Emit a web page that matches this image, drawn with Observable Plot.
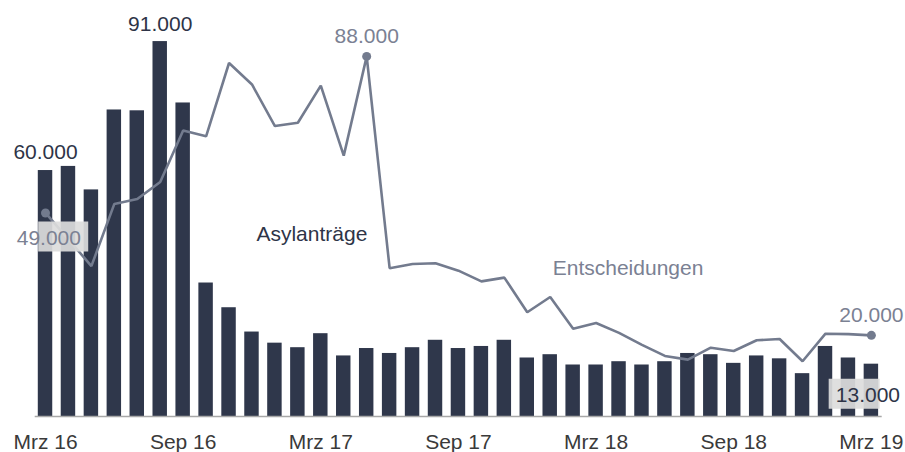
<!DOCTYPE html>
<html>
<head>
<meta charset="utf-8">
<script src="https://cdn.jsdelivr.net/npm/d3@7"></script>
<script src="https://cdn.jsdelivr.net/npm/@observablehq/plot@0.6"></script>
<style>
  html, body { margin: 0; padding: 0; background: #ffffff; }
  #chart svg { display: block; font-family: "Liberation Sans", Arial, sans-serif; }
</style>
</head>
<body>
<div id="chart"></div>
<script>
// Months (German abbreviations)
const months = [
  "Mrz 16","Apr 16","Mai 16","Jun 16","Jul 16","Aug 16","Sep 16","Okt 16","Nov 16","Dez 16",
  "Jan 17","Feb 17","Mrz 17","Apr 17","Mai 17","Jun 17","Jul 17","Aug 17","Sep 17","Okt 17","Nov 17","Dez 17",
  "Jan 18","Feb 18","Mrz 18","Apr 18","Mai 18","Jun 18","Jul 18","Aug 18","Sep 18","Okt 18","Nov 18","Dez 18",
  "Jan 19","Feb 19","Mrz 19"
];
// Asylanträge (thousands)
const asylantraege = [
  59.7, 60.7, 55.0, 74.4, 74.2, 91.0, 76.1, 32.4, 26.4, 20.5,
  17.8, 16.7, 20.1, 14.7, 16.5, 15.3, 16.7, 18.5, 16.5, 17.0, 18.5, 14.2,
  15.0, 12.5, 12.5, 13.3, 12.5, 13.3, 15.3, 15.0, 12.9, 14.7, 14.0, 10.4,
  17.0, 14.2, 12.7
];
// Entscheidungen (thousands)
const entscheidungen = [
  49.4, 43.0, 36.5, 51.6, 52.8, 56.9, 69.4, 68.0, 85.8, 80.6,
  70.5, 71.3, 80.3, 63.3, 87.4, 36.0, 37.0, 37.2, 35.4, 32.8, 33.7, 25.3,
  29.0, 21.3, 22.7, 20.3, 17.4, 14.7, 13.8, 16.7, 15.9, 18.5, 18.8, 13.4,
  20.1, 20.0, 19.7
];
const tickLabels = ["Mrz 16","Sep 16","Mrz 17","Sep 17","Mrz 18","Sep 18","Mrz 19"];
const seriesNames = ["Asylanträge", "Entscheidungen"];
const asylLabelText = ["60.000", "91.000", "13.000"];
const entschLabelText = ["49.000", "88.000", "20.000"];

const rows = months.map((m, i) => ({month: m, asyl: asylantraege[i], ent: entscheidungen[i]}));
const row = (m) => rows[months.indexOf(m)];

const BAR = "#2f374b";
const LINE = "#737b8e";
const DARKTXT = "#2e3447";
const GRAYTXT = "#7b8193";
const BOXFILL = "#dcdcdc";

const box49 = {draw(ctx) { ctx.rect(-7.3, 8.5, 50, 30); }};
const box13 = {draw(ctx) { ctx.rect(-42.7, 14.6, 51, 30); }};

const chart = Plot.plot({
  width: 905,
  height: 452,
  marginLeft: 29.3,
  marginRight: 18.4,
  marginTop: 4,
  marginBottom: 36,
  style: {fontFamily: "'Liberation Sans', Arial, sans-serif", background: "#ffffff"},
  x: {type: "band", domain: months, padding: 0.37},
  y: {domain: [0, 100], axis: null},
  marks: [
    Plot.barY(rows, {x: "month", y: "asyl", fill: BAR}),
    Plot.ruleY([0], {stroke: "#a8a8a8", strokeWidth: 1.5, insetLeft: 5.4, insetRight: 4.9}),
    Plot.line(rows, {x: "month", y: "ent", stroke: LINE, strokeWidth: 2.6, strokeLinejoin: "miter"}),
    Plot.dot([row("Mrz 16"), row("Mai 17"), row("Mrz 19")], {x: "month", y: "ent", r: 4.5, fill: LINE, stroke: "none"}),
    // label boxes
    Plot.dot([row("Mrz 16")], {x: "month", y: "ent", symbol: box49, fill: BOXFILL, fillOpacity: 0.92, stroke: "none"}),
    Plot.dot([row("Mrz 19")], {x: "month", y: "asyl", symbol: box13, fill: BOXFILL, fillOpacity: 0.92, stroke: "none"}),
    // Asylanträge value labels
    Plot.text([row("Mrz 16")], {x: "month", y: "asyl", text: () => asylLabelText[0], dy: -18.5, fontSize: 21, fill: DARKTXT}),
    Plot.text([row("Aug 16")], {x: "month", y: "asyl", text: () => asylLabelText[1], dy: -17.5, fontSize: 21, fill: DARKTXT}),
    Plot.text([row("Mrz 19")], {x: "month", y: "asyl", text: () => asylLabelText[2], dx: -3.5, dy: 31.3, fontSize: 21, fill: DARKTXT}),
    // Entscheidungen value labels
    Plot.text([row("Mrz 16")], {x: "month", y: "ent", text: () => entschLabelText[0], dx: 3.3, dy: 25, fontSize: 21, fill: GRAYTXT}),
    Plot.text([row("Mai 17")], {x: "month", y: "ent", text: () => entschLabelText[1], dy: -20.5, fontSize: 21, fill: GRAYTXT}),
    Plot.text([row("Mrz 19")], {x: "month", y: "ent", text: () => entschLabelText[2], dy: -20.3, fontSize: 21, fill: GRAYTXT}),
    // series names
    Plot.text([seriesNames[0]], {x: () => "Feb 17", y: () => 44.3, dx: 14, text: d => d, fontSize: 21, fill: DARKTXT}),
    Plot.text([seriesNames[1]], {x: () => "Apr 18", y: () => 36.1, dx: 9, text: d => d, fontSize: 21, fill: GRAYTXT}),
    Plot.axisX({ticks: tickLabels, tickSize: 0, tickPadding: 18, fontSize: 21, color: "#3a3a3a", label: null})
  ]
});
document.getElementById("chart").appendChild(chart);
</script>
</body>
</html>
